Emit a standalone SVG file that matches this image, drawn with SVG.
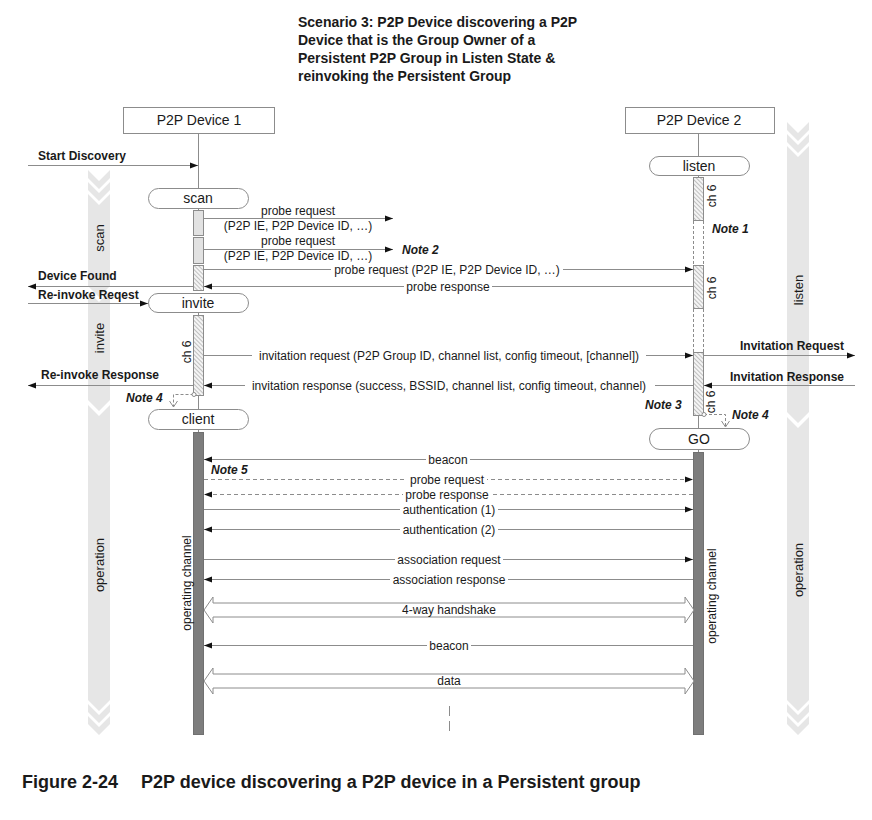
<svg xmlns="http://www.w3.org/2000/svg" width="872" height="820" viewBox="0 0 872 820">
<defs>
<style>
text{font-family:"Liberation Sans",Arial,sans-serif;fill:#1a1a1a}
.t{font-size:14px;font-weight:bold}
.cap{font-size:18px;font-weight:bold}
.box{fill:#fff;stroke:#8c8c8c;stroke-width:1}
.nm{font-size:14px;text-anchor:middle}
.ll{stroke:#8c8c8c;stroke-width:1;fill:none}
.msg{stroke:#8c8c8c;stroke-width:1;fill:none}
.arr{marker-end:url(#ah)}
.dsh{stroke-dasharray:4 3}
.lb{font-size:12px;text-anchor:middle}
.bg{fill:#fff}
.ext{font-size:12px;font-weight:bold}
.note{font-size:12px;font-weight:bold;font-style:italic}
.bar{fill:#e2e2e2;stroke:#8c8c8c}
.hb{fill:url(#hatch);stroke:#8c8c8c}
.op{fill:#7d7d7d;stroke:#707070}
.band{fill:#e6e6e6}
.ph{font-size:13px;text-anchor:middle;dominant-baseline:central}
.rot{font-size:12px;text-anchor:middle;dominant-baseline:central}
.nd{stroke:#8c8c8c;stroke-width:1;fill:none;stroke-dasharray:3 2}
.dbl{fill:#fff;stroke:#8c8c8c;stroke-width:1}
</style>
<pattern id="hatch" width="3" height="3" patternUnits="userSpaceOnUse" patternTransform="rotate(-45)">
<rect width="3" height="3" fill="#f4f4f4"/>
<line x1="0" y1="0" x2="0" y2="3" stroke="#8a8a8a" stroke-width="1"/>
</pattern>
<marker id="ah" markerWidth="9" markerHeight="7" refX="8" refY="3.5" orient="auto" markerUnits="userSpaceOnUse">
<path d="M0,0.5 L8,3.5 L0,6.5 z" fill="#111"/>
</marker>
<marker id="oa" markerWidth="8" markerHeight="10" refX="6" refY="4" orient="auto" markerUnits="userSpaceOnUse">
<path d="M0,0 L6,4 L0,8" fill="none" stroke="#8c8c8c" stroke-width="1"/>
</marker>
</defs>
<rect width="872" height="820" fill="#fff"/>

<!-- Title -->
<g id="title">
<text class="t" x="298" y="27">Scenario 3: P2P Device discovering a P2P</text>
<text class="t" x="298" y="45">Device that is the Group Owner of a</text>
<text class="t" x="298" y="63">Persistent P2P Group in Listen State &amp;</text>
<text class="t" x="298" y="81">reinvoking the Persistent Group</text>
</g>

<!-- Phase bands -->
<g id="phase-left">
<polygon class="band" points="88,170 99,181 110,170 110,178 99,189 88,178"/>
<polygon class="band" points="88,182 99,193 110,182 110,190 99,201 88,190"/>
<polygon class="band" points="88,194 99,205 110,194 110,286 99,297 88,286"/>
<polygon class="band" points="88,291 99,302 110,291 110,400 99,411 88,400"/>
<polygon class="band" points="88,405 99,416 110,405 110,700 99,711 88,700"/>
<polygon class="band" points="88,704 99,715 110,704 110,712 99,723 88,712"/>
<polygon class="band" points="88,716 99,727 110,716 110,724 99,735 88,724"/>
<text class="ph" transform="translate(99,238) rotate(-90)">scan</text>
<text class="ph" transform="translate(99,338) rotate(-90)">invite</text>
<text class="ph" transform="translate(99,565) rotate(-90)">operation</text>
</g>
<g id="phase-right">
<polygon class="band" points="787,122 798,133 809,122 809,130 798,141 787,130"/>
<polygon class="band" points="787,134 798,145 809,134 809,142 798,153 787,142"/>
<polygon class="band" points="787,146 798,157 809,146 809,412 798,423 787,412"/>
<polygon class="band" points="787,417 798,428 809,417 809,700 798,711 787,700"/>
<polygon class="band" points="787,704 798,715 809,704 809,712 798,723 787,712"/>
<polygon class="band" points="787,716 798,727 809,716 809,724 798,735 787,724"/>
<text class="ph" transform="translate(798,290) rotate(-90)">listen</text>
<text class="ph" transform="translate(798,570) rotate(-90)">operation</text>
</g>

<!-- Device 1 -->
<g id="device1">
<rect class="box" x="123.5" y="107.5" width="151" height="26"/>
<text class="nm" x="199" y="125">P2P Device 1</text>
<line class="ll" x1="198.5" y1="133.5" x2="198.5" y2="188"/>
<line class="ll" x1="198.5" y1="208" x2="198.5" y2="210"/>
<line class="ll" x1="198.5" y1="312" x2="198.5" y2="315"/>
<line class="ll" x1="198.5" y1="395" x2="198.5" y2="409"/>
<line class="ll" x1="198.5" y1="429" x2="198.5" y2="432"/>
</g>
<g id="scan">
<rect class="box" x="148.5" y="188.5" width="100" height="20" rx="10"/>
<text class="nm" x="198" y="203">scan</text>
</g>
<g id="scan-bars">
<rect class="bar" x="193.5" y="210.5" width="10" height="25"/>
<rect class="bar" x="193.5" y="237.5" width="10" height="26"/>
<rect class="hb" x="193.5" y="265.5" width="10" height="25"/>
</g>
<g id="invite">
<rect class="box" x="148.5" y="293.5" width="100" height="19" rx="9.5"/>
<text class="nm" x="198" y="308">invite</text>
</g>
<g id="invite-bar">
<rect class="hb" x="193.5" y="315.5" width="10" height="80"/>
<text class="rot" transform="translate(187,352) rotate(-90)">ch 6</text>
</g>
<g id="client">
<rect class="box" x="148.5" y="409.5" width="100" height="20" rx="10"/>
<text class="nm" x="198" y="424">client</text>
</g>
<g id="client-channel">
<rect class="op" x="193.5" y="432.5" width="10" height="302"/>
<text class="rot" transform="translate(187,583) rotate(-90)">operating channel</text>
</g>

<!-- Device 2 -->
<g id="device2">
<rect class="box" x="625.5" y="107.5" width="149" height="26"/>
<text class="nm" x="699" y="125">P2P Device 2</text>
<line class="ll" x1="698.5" y1="133.5" x2="698.5" y2="156"/>
<line class="ll" x1="698.5" y1="175" x2="698.5" y2="177"/>
<line class="ll" x1="698.5" y1="415" x2="698.5" y2="428"/>
<line class="ll" x1="698.5" y1="449" x2="698.5" y2="452"/>
</g>
<g id="listen">
<rect class="box" x="649.5" y="156.5" width="100" height="19" rx="9.5"/>
<text class="nm" x="699" y="171">listen</text>
</g>
<g id="listen-bars">
<rect class="hb" x="693.5" y="177.5" width="10" height="43"/>
<text class="rot" transform="translate(712,196) rotate(-90)">ch 6</text>
<line class="nd" x1="693.5" y1="221" x2="693.5" y2="265"/>
<line class="nd" x1="703.5" y1="221" x2="703.5" y2="265"/>
<rect class="hb" x="693.5" y="265.5" width="10" height="43"/>
<text class="rot" transform="translate(712,288) rotate(-90)">ch 6</text>
<line class="nd" x1="693.5" y1="309" x2="693.5" y2="352"/>
<line class="nd" x1="703.5" y1="309" x2="703.5" y2="352"/>
<rect class="hb" x="693.5" y="352.5" width="10" height="63"/>
<text class="rot" transform="translate(711,402) rotate(-90)">ch 6</text>
</g>
<g id="go">
<rect class="box" x="649.5" y="428.5" width="100" height="21" rx="10.5"/>
<text class="nm" x="699" y="444">GO</text>
</g>
<g id="go-channel">
<rect class="op" x="693.5" y="452.5" width="10" height="282"/>
<text class="rot" transform="translate(712,596) rotate(-90)">operating channel</text>
</g>

<!-- Notes -->
<g id="notes">
<text class="note" x="712" y="233">Note 1</text>
<text class="note" x="402" y="254">Note 2</text>
<text class="note" x="645" y="409">Note 3</text>
<text class="note" x="126" y="402">Note 4</text>
<path class="nd" d="M193.5,394.5 H173.5 V407" marker-end="url(#oa)"/>
<circle cx="194" cy="394.5" r="2" fill="#fff" stroke="#8c8c8c"/>
<text class="note" x="732" y="419">Note 4</text>
<path class="nd" d="M704,414.5 H725.5 V427" marker-end="url(#oa)"/>
<circle cx="704" cy="414.5" r="2" fill="#fff" stroke="#8c8c8c"/>
<text class="note" x="211" y="474">Note 5</text>
</g>

<!-- Connectors -->
<g id="connectors">
<!-- external -->
<line class="msg arr" x1="28" y1="165.5" x2="198" y2="165.5"/>
<text class="ext" x="38" y="160">Start Discovery</text>
<line class="msg arr" x1="193" y1="286.5" x2="28" y2="286.5"/>
<text class="ext" x="38" y="280">Device Found</text>
<line class="msg arr" x1="28" y1="303.5" x2="148" y2="303.5"/>
<text class="ext" x="38" y="299">Re-invoke Reqest</text>
<line class="msg arr" x1="193" y1="385.5" x2="28" y2="385.5"/>
<text class="ext" x="41" y="379">Re-invoke Response</text>
<line class="msg arr" x1="704" y1="355.5" x2="855" y2="355.5"/>
<text class="ext" x="740" y="350">Invitation Request</text>
<line class="msg arr" x1="855" y1="385.5" x2="704" y2="385.5"/>
<text class="ext" x="730" y="381">Invitation Response</text>

<!-- scan phase -->
<line class="msg arr" x1="204" y1="218.5" x2="393" y2="218.5"/>
<text class="lb" x="298" y="215">probe request</text>
<text class="lb" x="298" y="230">(P2P IE, P2P Device ID, …)</text>
<line class="msg arr" x1="204" y1="249.5" x2="393" y2="249.5"/>
<text class="lb" x="298" y="245">probe request</text>
<text class="lb" x="298" y="260">(P2P IE, P2P Device ID, …)</text>
<line class="msg arr" x1="204" y1="269.5" x2="693" y2="269.5"/>
<rect class="bg" x="331" y="263" width="232" height="13"/>
<text class="lb" x="447" y="274">probe request (P2P IE, P2P Device ID, …)</text>
<line class="msg arr" x1="693" y1="286.5" x2="204" y2="286.5"/>
<rect class="bg" x="404" y="280" width="88" height="13"/>
<text class="lb" x="448" y="291">probe response</text>

<!-- invite phase -->
<line class="msg arr" x1="204" y1="355.5" x2="693" y2="355.5"/>
<rect class="bg" x="252" y="349" width="394" height="13"/>
<text class="lb" x="449" y="360">invitation request (P2P Group ID, channel list, config timeout, [channel])</text>
<line class="msg arr" x1="693" y1="385.5" x2="204" y2="385.5"/>
<rect class="bg" x="245" y="379" width="410" height="13"/>
<text class="lb" x="449" y="390">invitation response (success, BSSID, channel list, config timeout, channel)</text>

<!-- operation phase -->
<line class="msg arr" x1="693" y1="459.5" x2="204" y2="459.5"/>
<rect class="bg" x="426" y="453" width="44" height="13"/>
<text class="lb" x="448" y="464">beacon</text>
<line class="msg arr dsh" x1="204" y1="479.5" x2="693" y2="479.5"/>
<rect class="bg" x="407" y="473" width="80" height="13"/>
<text class="lb" x="447" y="484">probe request</text>
<line class="msg arr dsh" x1="693" y1="494.5" x2="204" y2="494.5"/>
<rect class="bg" x="403" y="488" width="88" height="13"/>
<text class="lb" x="447" y="499">probe response</text>
<line class="msg arr" x1="204" y1="509.5" x2="693" y2="509.5"/>
<rect class="bg" x="400" y="503" width="98" height="13"/>
<text class="lb" x="449" y="514">authentication (1)</text>
<line class="msg arr" x1="693" y1="529.5" x2="204" y2="529.5"/>
<rect class="bg" x="400" y="523" width="98" height="13"/>
<text class="lb" x="449" y="534">authentication (2)</text>
<line class="msg arr" x1="204" y1="559.5" x2="693" y2="559.5"/>
<rect class="bg" x="395" y="553" width="108" height="13"/>
<text class="lb" x="449" y="564">association request</text>
<line class="msg arr" x1="693" y1="579.5" x2="204" y2="579.5"/>
<rect class="bg" x="390" y="573" width="118" height="13"/>
<text class="lb" x="449" y="584">association response</text>
<polygon class="dbl" points="204,610 213,597 213,603 685,603 685,597 694,610 685,623 685,617 213,617 213,623"/>
<text class="lb" x="449" y="614">4-way handshake</text>
<line class="msg arr" x1="693" y1="645.5" x2="204" y2="645.5"/>
<rect class="bg" x="427" y="639" width="44" height="13"/>
<text class="lb" x="449" y="650">beacon</text>
<polygon class="dbl" points="204,681 213,668 213,674 685,674 685,668 694,681 685,694 685,688 213,688 213,694"/>
<text class="lb" x="449" y="685">data</text>
<line class="ll" x1="449.5" y1="706" x2="449.5" y2="716"/>
<line class="ll" x1="449.5" y1="721" x2="449.5" y2="731"/>
</g>

<!-- Caption -->
<g id="caption">
<text class="cap" x="22" y="788">Figure 2-24</text>
<text class="cap" x="141" y="788">P2P device discovering a P2P device in a Persistent group</text>
</g>
</svg>
